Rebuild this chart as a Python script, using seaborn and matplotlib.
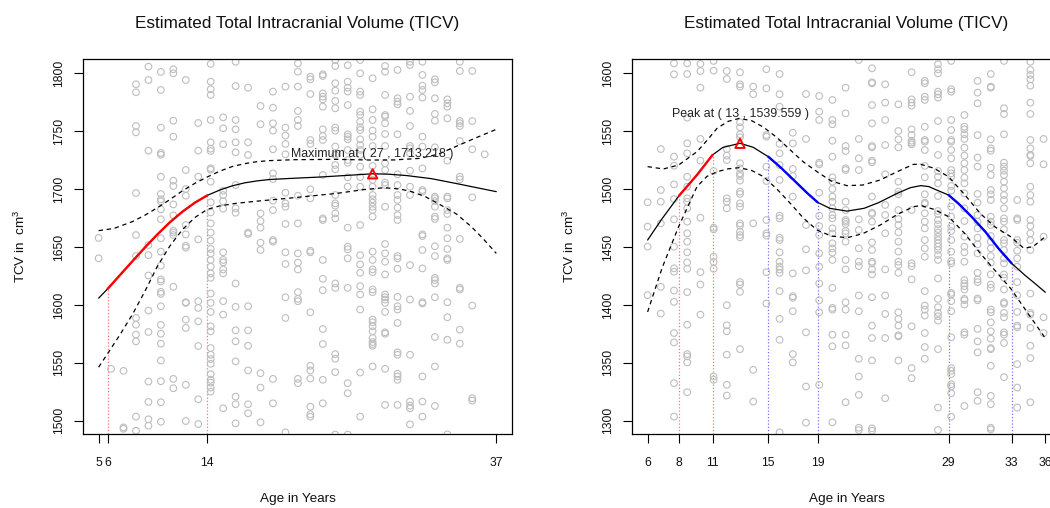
import numpy as np
import pandas as pd
import matplotlib
matplotlib.use("Agg")
import matplotlib.pyplot as plt
import seaborn as sns

# ---------------------------------------------------------------- data
TITLE = "Estimated Total Intracranial Volume (TICV)"
X_LABEL = "Age in Years"
Y_LABEL = r"TCV in  cm$^3$"

# Left panel: observed TCV per age
left_ages = [5.27, 6.27, 7.27, 8.27, 9.27, 10.27, 11.27, 12.27, 13.27, 14.27,
             15.27, 16.27, 17.27, 18.27, 19.27, 20.27, 21.27, 22.27, 23.27,
             24.27, 25.27, 26.27, 27.27, 28.27, 29.27, 30.27, 31.27, 32.27,
             33.27, 34.27, 35.27, 36.27]
left_values = [
    [1657.8, 1640.2],
    [1544.8],
    [1543.0, 1494.2, 1493.0],
    [1790.5, 1783.6, 1754.5, 1749.0, 1696.6, 1660.3, 1642.2, 1588.7, 1582.9, 1574.3, 1568.5, 1503.5, 1491.3],
    [1805.8, 1794.2, 1733.2, 1651.7, 1643.0, 1625.4, 1595.1, 1576.6, 1533.8, 1516.2, 1501.2, 1495.7],
    [1801.2, 1785.6, 1753.1, 1731.2, 1729.7, 1710.7, 1695.8, 1691.2, 1689.4, 1682.5, 1673.9, 1657.5, 1646.0,
     1633.9, 1622.0, 1620.2, 1611.3, 1609.5, 1598.8, 1582.7, 1575.1, 1566.5, 1552.0, 1534.1, 1515.9, 1499.1],
    [1803.5, 1800.0, 1759.1, 1745.3, 1707.3, 1702.7, 1686.8, 1677.3, 1664.1, 1662.4, 1660.3, 1615.6, 1536.1, 1528.0],
    [1794.2, 1716.5, 1700.1, 1694.3, 1669.0, 1660.9, 1651.1, 1649.4, 1602.3, 1601.7, 1587.3, 1580.1, 1531.0, 1499.7],
    [1757.1, 1733.2, 1710.7, 1656.6, 1603.2, 1597.4, 1585.8, 1564.5, 1518.5, 1497.1],
    [1808.1, 1792.8, 1786.2, 1781.3, 1759.7, 1740.4, 1734.9, 1732.9, 1718.0, 1716.8, 1706.4, 1688.6, 1679.9,
     1670.4, 1662.4, 1655.5, 1648.3, 1644.5, 1638.8, 1633.0, 1627.2, 1623.4, 1609.8, 1601.7, 1593.9, 1581.5,
     1577.2, 1562.7, 1556.9, 1553.2, 1549.1, 1540.2, 1535.3, 1532.9, 1528.6, 1525.1],
    [1762.0, 1752.5, 1738.7, 1698.6, 1694.9, 1689.4, 1683.1, 1645.4, 1638.8, 1636.7, 1630.6, 1627.2, 1603.2,
     1591.6, 1510.7],
    [1810.0, 1789.0, 1759.7, 1751.6, 1740.4, 1731.8, 1703.5, 1683.4, 1679.6, 1618.5, 1598.3, 1578.0, 1568.5,
     1551.2, 1520.8, 1514.2, 1497.7],
    [1787.6, 1740.4, 1729.5, 1662.4, 1661.2, 1598.8, 1578.0, 1564.7, 1543.4, 1514.2, 1506.4],
    [1771.8, 1756.0, 1679.0, 1672.4, 1666.7, 1653.7, 1647.4, 1541.0, 1528.6, 1498.6],
    [1784.2, 1770.3, 1756.8, 1750.5, 1734.4, 1713.6, 1708.7, 1690.0, 1681.9, 1656.0, 1654.6, 1536.1, 1515.0],
    [1788.5, 1753.1, 1746.2, 1739.0, 1730.0, 1696.9, 1687.7, 1684.8, 1669.9, 1645.4, 1635.3, 1606.6, 1588.7, 1489.9],
    [1808.6, 1801.4, 1788.5, 1767.5, 1759.7, 1754.5, 1694.3, 1670.4, 1644.5, 1636.5, 1630.6, 1611.0, 1605.2,
     1603.2, 1536.1, 1532.4],
    [1797.1, 1794.8, 1782.1, 1742.4, 1739.0, 1699.8, 1692.0, 1646.8, 1645.4, 1593.6, 1547.4, 1543.4, 1536.4,
     1512.1, 1505.5, 1503.5],
    [1799.1, 1797.7, 1782.7, 1779.8, 1777.5, 1771.2, 1751.6, 1745.9, 1742.4, 1712.2, 1674.7, 1673.3, 1638.8,
     1622.5, 1612.7, 1579.2, 1566.2, 1535.3, 1515.0],
    [1811.5, 1806.3, 1791.4, 1785.0, 1776.1, 1769.8, 1753.1, 1750.5, 1736.7, 1729.5, 1720.8, 1717.1, 1694.9,
     1687.7, 1685.7, 1679.0, 1674.7, 1618.5, 1614.7, 1557.5, 1553.5, 1541.9, 1488.0],
    [1806.9, 1792.8, 1787.6, 1784.2, 1772.6, 1747.3, 1745.3, 1743.0, 1733.8, 1725.1, 1722.8, 1710.2, 1702.1,
     1666.7, 1650.3, 1648.0, 1640.2, 1614.7, 1532.4, 1523.7, 1488.0],
    [1811.5, 1800.0, 1784.2, 1781.3, 1766.9, 1764.0, 1758.2, 1753.4, 1751.0, 1743.0, 1738.1, 1733.8, 1729.5,
     1719.4, 1710.4, 1702.1, 1669.0, 1643.0, 1635.0, 1627.7, 1616.2, 1609.0, 1596.0, 1541.6, 1503.5],
    [1795.7, 1768.9, 1759.7, 1750.5, 1745.3, 1737.2, 1720.0, 1707.9, 1702.1, 1694.9, 1691.2, 1688.3, 1684.8,
     1681.9, 1676.2, 1646.0, 1638.8, 1630.7, 1628.3, 1613.3, 1611.0, 1587.3, 1585.0, 1581.5, 1577.2, 1571.4,
     1567.9, 1566.2, 1564.7, 1546.8],
    [1806.3, 1801.4, 1781.3, 1764.0, 1762.6, 1756.8, 1747.6, 1737.2, 1722.3, 1716.5, 1705.6, 1703.5, 1684.8,
     1652.6, 1644.5, 1637.3, 1626.3, 1609.0, 1606.6, 1604.6, 1601.7, 1593.9, 1576.3, 1575.1, 1544.8, 1513.6],
    [1802.9, 1778.4, 1775.5, 1773.2, 1747.3, 1712.8, 1703.5, 1694.9, 1690.6, 1684.0, 1677.6, 1673.3, 1642.2,
     1640.2, 1631.2, 1606.9, 1598.8, 1596.0, 1584.4, 1559.0, 1556.9, 1540.5, 1538.2, 1535.3, 1513.6],
    [1810.0, 1807.2, 1779.8, 1767.5, 1754.5, 1737.2, 1735.2, 1730.9, 1715.9, 1702.1, 1694.9, 1634.4, 1604.6,
     1556.9, 1516.5, 1513.0, 1510.7, 1496.8],
    [1810.0, 1798.6, 1789.3, 1785.6, 1779.0, 1745.3, 1736.7, 1717.9, 1699.2, 1697.8, 1660.9, 1659.5, 1647.4,
     1631.5, 1602.3, 1601.2, 1538.2, 1516.5, 1503.5],
    [1794.8, 1792.2, 1778.4, 1764.9, 1759.1, 1736.1, 1693.5, 1692.0, 1689.7, 1684.8, 1676.2, 1674.2, 1650.6,
     1642.2, 1623.4, 1621.4, 1618.5, 1606.6, 1572.3, 1546.8, 1512.7],
    [1777.5, 1774.1, 1771.2, 1761.1, 1724.6, 1693.5, 1692.0, 1681.9, 1678.5, 1666.7, 1657.5, 1648.3, 1640.2,
     1638.8, 1602.3, 1589.3, 1569.9, 1488.2],
    [1810.0, 1802.0, 1758.8, 1756.8, 1754.5, 1741.5, 1710.7, 1708.4, 1656.9, 1614.7, 1613.3, 1578.6, 1566.5],
    [1802.0, 1758.8, 1734.4, 1692.9, 1599.4, 1519.4, 1517.3],
    [1730.0],
]

# Left panel: fitted curve and confidence band
left_fit_age = [5.27, 6.0, 7.0, 8.0, 9.0, 10.0, 11.0, 12.0, 13.0, 14.0, 15.0, 16.0, 17.0, 18.0, 19.0,
                21.0, 23.0, 25.0, 27.27, 28.5, 30.0, 32.0, 34.0, 35.5, 37.2]
left_fit_tcv = [1605.8, 1613.9, 1625.9, 1637.9, 1649.7, 1661.0, 1671.4, 1680.5, 1688.3, 1694.6, 1699.2,
                1702.8, 1705.4, 1707.1, 1708.3, 1709.4, 1710.4, 1711.7, 1713.218, 1712.9, 1711.7,
                1709.0, 1704.8, 1701.5, 1697.8]
left_up_age = [5.27, 6.5, 8.0, 9.0, 10.0, 11.0, 12.0, 13.0, 14.0, 15.0, 16.0, 17.0, 18.0, 19.0, 21.0,
               24.4, 27.1, 29.0, 31.0, 32.5, 34.0, 35.5, 37.2]
left_up_tcv = [1664.1, 1666.0, 1672.0, 1677.5, 1684.0, 1691.0, 1698.5, 1705.0, 1710.5, 1715.5, 1719.5,
               1722.0, 1723.7, 1724.6, 1725.4, 1725.7, 1725.1, 1725.2, 1726.5, 1730.0, 1737.0, 1744.0, 1751.6]
left_lo_age = [5.27, 6.0, 7.0, 8.0, 9.0, 10.0, 11.0, 12.0, 13.0, 14.0, 15.0, 16.3, 18.0, 20.4, 24.4,
               26.5, 28.2, 29.5, 30.4, 31.5, 32.5, 34.0, 35.2, 36.2, 37.2]
left_lo_tcv = [1546.2, 1558.0, 1574.5, 1592.0, 1612.0, 1633.5, 1651.0, 1665.0, 1675.5, 1682.5, 1685.5,
               1687.7, 1689.6, 1692.0, 1696.3, 1699.5, 1701.2, 1700.0, 1697.8, 1693.5, 1687.7, 1678.5,
               1667.5, 1656.5, 1644.5]
left_peak = (27.27, 1713.218)
left_red = [(6.0, 14.0)]
left_blue = []
left_xticks = [5.27, 6.0, 14.0, 37.2]
left_yticks = [1500, 1550, 1600, 1650, 1700, 1750, 1800]

# Right panel: observed TCV per age
right_ages = [5.9, 6.9, 7.9, 8.9, 9.9, 10.9, 11.9, 12.9, 13.9, 14.9, 15.9, 16.9, 17.9, 18.9, 19.9,
              20.9, 21.9, 22.9, 23.9, 24.9, 25.9, 26.9, 27.9, 28.9, 29.9, 30.9, 31.9, 32.9, 33.9,
              34.9, 35.9]
right_values = [
    [1488.6, 1467.6, 1450.3, 1408.4],
    [1534.6, 1499.2, 1489.1, 1470.4, 1415.6, 1392.5],
    [1608.6, 1599.1, 1528.0, 1520.2, 1504.1, 1491.4, 1473.9, 1450.3, 1431.6, 1428.6, 1412.4, 1402.6,
     1375.7, 1367.6, 1332.4, 1303.5],
    [1608.6, 1599.4, 1561.7, 1539.5, 1530.9, 1510.7, 1502.1, 1492.0, 1489.1, 1483.4, 1471.9, 1461.8,
     1454.6, 1445.4, 1436.7, 1431.2, 1411.0, 1382.9, 1357.5, 1355.5, 1350.3, 1324.6],
    [1608.1, 1602.0, 1587.6, 1543.3, 1524.6, 1475.3, 1428.3, 1417.6, 1391.6],
    [1610.7, 1602.3, 1515.6, 1466.7, 1465.2, 1441.6, 1437.0, 1431.2, 1338.2, 1335.3],
    [1602.0, 1595.1, 1534.6, 1528.9, 1525.1, 1492.0, 1489.1, 1483.4, 1399.7, 1382.4, 1377.2, 1357.0,
     1331.0, 1321.7],
    [1600.9, 1590.5, 1588.5, 1557.7, 1553.4, 1547.3, 1544.7, 1522.3, 1517.9, 1513.6, 1511.3, 1507.3,
     1497.8, 1495.8, 1487.7, 1484.8, 1470.4, 1468.4, 1463.2, 1460.3, 1458.3, 1419.7, 1417.6, 1411.3, 1361.8],
    [1588.5, 1581.9, 1470.4, 1343.9, 1316.5],
    [1603.5, 1587.0, 1546.7, 1545.3, 1519.4, 1507.0, 1473.3, 1461.8, 1459.8, 1428.3, 1401.2],
    [1599.4, 1581.9, 1571.2, 1539.0, 1530.9, 1520.8, 1507.9, 1477.0, 1474.7, 1458.0, 1456.0, 1445.4,
     1437.3, 1433.0, 1430.6, 1427.7, 1411.9, 1387.9, 1369.9, 1289.9],
    [1548.7, 1539.5, 1517.4, 1511.3, 1493.5, 1427.2, 1407.5, 1406.1, 1394.5, 1357.5, 1350.3],
    [1582.1, 1543.3, 1469.0, 1448.0, 1429.8, 1376.3, 1329.5, 1298.3],
    [1580.4, 1566.9, 1559.7, 1522.8, 1521.4, 1496.9, 1477.0, 1468.1, 1460.3, 1444.5, 1433.0, 1418.5,
     1404.0, 1393.6, 1330.9],
    [1577.0, 1559.7, 1556.0, 1541.8, 1528.0, 1510.2, 1506.4, 1500.1, 1493.5, 1489.1, 1483.4, 1477.6,
     1474.7, 1466.1, 1461.8, 1453.2, 1448.8, 1445.1, 1438.8, 1414.7, 1397.4, 1395.9, 1374.3, 1364.2, 1298.6],
    [1587.6, 1565.4, 1537.2, 1532.9, 1517.9, 1516.5, 1489.1, 1481.9, 1473.3, 1471.9, 1469.9, 1463.8,
     1461.8, 1454.6, 1438.8, 1430.6, 1402.3, 1395.9, 1374.3, 1365.0, 1315.9],
    [1611.5, 1543.3, 1526.6, 1516.5, 1473.9, 1464.6, 1448.8, 1437.3, 1433.5, 1408.1, 1394.5, 1353.5,
     1338.2, 1322.3, 1293.9, 1291.9],
    [1604.3, 1592.2, 1591.4, 1572.6, 1556.8, 1537.2, 1536.1, 1524.6, 1523.1, 1493.5, 1479.6, 1478.5,
     1471.9, 1454.0, 1447.4, 1437.3, 1435.9, 1430.6, 1426.3, 1406.6, 1382.1, 1371.4, 1352.0, 1293.4, 1291.3],
    [1590.5, 1574.7, 1559.7, 1538.1, 1512.8, 1486.3, 1477.6, 1461.8, 1430.6, 1408.1, 1392.2, 1371.4, 1319.4],
    [1573.2, 1550.2, 1543.0, 1536.1, 1506.4, 1497.8, 1495.5, 1481.9, 1474.2, 1469.0, 1462.7, 1454.6,
     1446.0, 1437.3, 1434.4, 1427.7, 1393.6, 1387.9, 1382.1, 1373.7, 1372.8, 1352.0],
    [1600.9, 1577.5, 1574.7, 1572.1, 1551.6, 1546.7, 1541.8, 1540.1, 1538.7, 1481.9, 1435.9, 1433.5,
     1422.0, 1381.5, 1345.4, 1336.7],
    [1593.4, 1591.4, 1579.8, 1577.0, 1553.9, 1542.4, 1541.0, 1533.8, 1520.0, 1510.2, 1495.5, 1488.3,
     1487.1, 1479.1, 1471.9, 1466.1, 1456.0, 1448.8, 1441.6, 1411.9, 1399.4, 1395.9, 1390.8, 1375.7,
     1363.6, 1353.5],
    [1607.8, 1603.5, 1600.0, 1584.2, 1581.9, 1579.0, 1558.8, 1543.3, 1529.5, 1515.6, 1510.7, 1505.0,
     1494.0, 1481.1, 1478.5, 1473.3, 1469.6, 1465.5, 1462.4, 1458.9, 1456.0, 1453.2, 1450.3, 1447.4,
     1443.1, 1438.8, 1422.8, 1405.2, 1398.0, 1393.1, 1390.2, 1386.4, 1361.8, 1311.3, 1291.9],
    [1610.7, 1586.2, 1584.2, 1559.7, 1551.0, 1542.4, 1541.0, 1533.8, 1526.6, 1516.5, 1513.6, 1510.7,
     1502.7, 1498.6, 1484.8, 1476.2, 1467.6, 1463.8, 1456.0, 1446.0, 1437.9, 1435.8, 1410.4, 1409.0,
     1403.2, 1394.5, 1372.0, 1345.4, 1343.1, 1340.2, 1331.5, 1329.5, 1323.7, 1303.5],
    [1564.0, 1553.9, 1551.6, 1547.3, 1543.3, 1535.8, 1528.9, 1522.3, 1516.5, 1509.9, 1505.0, 1496.3,
     1483.4, 1472.4, 1458.9, 1450.3, 1445.4, 1437.3, 1421.4, 1418.5, 1416.2, 1413.3, 1405.2, 1404.0,
     1400.3, 1376.3, 1374.3, 1312.7],
    [1593.4, 1583.3, 1574.1, 1546.7, 1527.2, 1519.4, 1495.8, 1488.3, 1477.6, 1471.9, 1466.1, 1458.0,
     1452.3, 1444.5, 1427.7, 1422.0, 1419.7, 1405.5, 1404.0, 1379.2, 1368.5, 1359.0, 1324.6, 1317.1],
    [1599.4, 1588.5, 1587.6, 1543.0, 1535.2, 1533.2, 1518.5, 1512.2, 1499.2, 1495.5, 1490.6, 1476.2,
     1471.9, 1469.0, 1459.5, 1454.6, 1448.8, 1442.2, 1436.4, 1426.3, 1417.6, 1414.7, 1395.9, 1393.6,
     1384.9, 1377.2, 1370.8, 1362.7, 1361.8, 1347.4, 1321.4, 1314.2, 1293.9, 1292.5],
    [1610.7, 1569.8, 1564.9, 1547.3, 1522.8, 1519.4, 1515.9, 1512.2, 1506.4, 1500.7, 1494.9, 1490.6,
     1483.4, 1474.7, 1471.9, 1465.2, 1456.0, 1453.2, 1447.4, 1440.2, 1435.9, 1426.3, 1423.4, 1413.3,
     1402.3, 1400.9, 1393.1, 1389.3, 1376.3, 1374.3, 1367.1, 1337.6],
    [1490.6, 1474.7, 1473.3, 1456.0, 1453.7, 1446.8, 1440.2, 1433.0, 1419.7, 1408.4, 1393.9, 1382.1,
     1380.6, 1348.8, 1328.6, 1311.3],
    [1610.0, 1602.9, 1598.6, 1594.8, 1589.3, 1574.7, 1564.9, 1542.4, 1535.2, 1529.5, 1528.6, 1522.3,
     1502.1, 1494.9, 1489.1, 1473.3, 1468.1, 1461.8, 1456.0, 1447.4, 1409.8, 1393.1, 1391.6, 1380.1,
     1364.7, 1354.0, 1315.9],
    [1543.3, 1521.4, 1458.9, 1389.3, 1375.7],
]

# Right panel: fitted curve and confidence band
right_fit_age = [5.9, 7.0, 8.28, 9.64, 10.82, 11.6, 12.9, 13.9, 15.04, 16.0, 17.0, 18.0, 18.78, 19.7,
                 21.0, 22.3, 23.4, 24.8, 25.8, 26.6, 27.2, 27.8, 28.7, 29.5, 30.5, 31.5, 32.5, 33.48,
                 34.5, 35.3, 36.03]
right_fit_tcv = [1456.0, 1474.5, 1494.3, 1512.2, 1529.5, 1536.0, 1539.559, 1536.1, 1528.0, 1518.5,
                 1507.5, 1496.5, 1488.6, 1483.4, 1481.0, 1483.4, 1488.3, 1496.3, 1501.2, 1503.0,
                 1502.2, 1499.2, 1494.9, 1487.0, 1475.5, 1463.0, 1448.5, 1435.9, 1425.5, 1418.0, 1410.9]
right_up_age = [5.9, 7.1, 8.25, 9.64, 10.4, 11.16, 12.0, 12.85, 13.8, 14.69, 15.7, 16.71, 17.7, 18.73,
                19.8, 21.0, 22.2, 23.53, 24.8, 26.05, 26.6, 27.6, 28.7, 29.9, 31.1, 32.2, 33.4,
                34.4, 35.1, 36.03]
right_up_tcv = [1519.4, 1517.4, 1520.8, 1532.3, 1542.0, 1552.5, 1558.5, 1561.1, 1559.0, 1553.4, 1544.5,
                1533.8, 1523.5, 1515.1, 1507.0, 1503.0, 1503.5, 1507.9, 1515.0, 1521.4, 1521.4, 1518.0,
                1510.7, 1495.5, 1479.0, 1467.5, 1458.9, 1448.9, 1450.3, 1458.9]
right_lo_age = [5.9, 7.0, 8.25, 9.64, 10.4, 11.16, 12.0, 12.85, 13.8, 14.69, 15.7, 16.71, 17.7, 18.73,
                19.8, 21.0, 22.2, 23.53, 24.8, 26.05, 26.6, 27.6, 28.7, 29.9, 31.1, 32.2, 33.4,
                34.7, 36.03]
right_lo_tcv = [1393.9, 1432.0, 1467.6, 1502.1, 1511.0, 1515.0, 1517.5, 1518.5, 1516.0, 1510.7, 1500.0,
                1487.7, 1475.0, 1464.7, 1459.5, 1458.0, 1461.5, 1469.0, 1478.0, 1484.8, 1485.8, 1482.5,
                1476.2, 1462.0, 1444.6, 1430.0, 1414.3, 1393.0, 1371.2]
right_peak = (12.9, 1539.559)
right_red = [(8.28, 10.82)]
right_blue = [(15.04, 18.78), (28.7, 33.48)]
right_xticks = [5.9, 8.28, 10.82, 15.04, 18.78, 28.7, 33.48, 36.03]
right_yticks = [1300, 1350, 1400, 1450, 1500, 1550, 1600]

# ---------------------------------------------------------------- style
sns.set_theme(style="white")
plt.rcParams["font.family"] = ["Liberation Sans", "DejaVu Sans"]
plt.rcParams["mathtext.fontset"] = "custom"
plt.rcParams["mathtext.rm"] = "Liberation Sans"
plt.rcParams["mathtext.it"] = "Liberation Sans:italic"

POINT_GREY = "#bebebe"
W, H = 1050, 508


def expand(ages, values):
    rows = [(a, v) for a, col in zip(ages, values) for v in col]
    return pd.DataFrame(rows, columns=["age", "tcv"])


def draw_panel(ax, ages, values, fit_age, fit_tcv, up_age, up_tcv, lo_age, lo_tcv,
               peak, peak_text, text_dy, red, blue, xticks, yticks, ylim):
    pts = expand(ages, values)
    sns.scatterplot(data=pts, x="age", y="tcv", ax=ax, marker="o", s=23,
                    facecolors="none", edgecolor=POINT_GREY, linewidth=0.8,
                    legend=False, zorder=2)

    fit = pd.DataFrame({"age": fit_age, "tcv": fit_tcv})
    up = pd.DataFrame({"age": up_age, "tcv": up_tcv})
    lo = pd.DataFrame({"age": lo_age, "tcv": lo_tcv})
    sns.lineplot(data=fit, x="age", y="tcv", ax=ax, color="black", linewidth=0.9,
                 sort=False, estimator=None, zorder=3)
    for band in (up, lo):
        sns.lineplot(data=band, x="age", y="tcv", ax=ax, color="black", linewidth=0.9,
                     linestyle=(0, (3.5, 3)), sort=False, estimator=None, zorder=3)

    for spans, col in ((red, "#ff0000"), (blue, "#0000ff")):
        for lo_a, hi_a in spans:
            seg = fit[(fit["age"] >= lo_a - 1e-9) & (fit["age"] <= hi_a + 1e-9)]
            sns.lineplot(data=seg, x="age", y="tcv", ax=ax, color=col, linewidth=1.7,
                         sort=False, estimator=None, zorder=4)
            tops = np.interp([lo_a, hi_a], fit["age"], fit["tcv"])
            ax.vlines([lo_a, hi_a], ylim[0], tops, colors=col, alpha=0.55,
                      linestyles=(0, (1, 1.6)), linewidth=0.9, zorder=1)

    px, py = peak
    sns.scatterplot(x=[px], y=[py], ax=ax, marker="^", s=45, facecolors="none",
                    edgecolor="#ff0000", linewidth=1.4, legend=False, zorder=5)
    ax.text(px, py + text_dy, peak_text.format(px, py), ha="center", va="center",
            fontsize=8.9, color="#222222", zorder=6)

    x0, x1 = min(ages + fit_age), max(ages + fit_age)
    pad = 0.04 * (x1 - x0)
    ax.set_xlim(x0 - pad, x1 + pad)
    ax.set_ylim(*ylim)
    ax.set_xticks(xticks)
    ax.set_xticklabels([f"{t:.0f}" for t in xticks])
    ax.set_yticks(yticks)
    ax.set_yticklabels([str(t) for t in yticks], rotation=90, va="center")

    ax.tick_params(axis="both", direction="out", length=6.7, width=0.8, color="black",
                   labelsize=8.7, labelcolor="#111111", bottom=True, left=True)
    ax.tick_params(axis="x", pad=9.5)
    ax.tick_params(axis="y", pad=6)
    for s in ax.spines.values():
        s.set_visible(True)
        s.set_color("black")
        s.set_linewidth(0.9)

    ax.set_xlabel(X_LABEL, fontsize=9.7, color="#111111")
    ax.set_ylabel(Y_LABEL, fontsize=9.7, color="#111111")
    ax.xaxis.set_label_coords(0.5, -0.1735)
    ax.xaxis.label.set_va("center")
    ax.yaxis.set_label_coords(-0.146, 0.5)
    ax.yaxis.label.set_va("center")
    ax.set_title(TITLE, fontsize=12.3, color="#111111", y=1.0961, pad=0, va="center")


fig = plt.figure(figsize=(W / 100, H / 100), dpi=100)
ax_l = fig.add_axes([82.7 / W, (H - 434) / H, 429.5 / W, 374.7 / H])
ax_r = fig.add_axes([631.7 / W, (H - 434) / H, 429.5 / W, 374.7 / H])

draw_panel(ax_l, left_ages, left_values, left_fit_age, left_fit_tcv, left_up_age, left_up_tcv,
           left_lo_age, left_lo_tcv, left_peak, "Maximum at ( {:.0f} , {:.3f} )", 17,
           left_red, left_blue, left_xticks, left_yticks, (1488.5, 1812.1))
draw_panel(ax_r, right_ages, right_values, right_fit_age, right_fit_tcv, right_up_age, right_up_tcv,
           right_lo_age, right_lo_tcv, right_peak, "Peak at ( {:.0f} , {:.3f} )", 25.4,
           right_red, right_blue, right_xticks, right_yticks, (1288.5, 1612.1))

fig.savefig("out.png", dpi=100, facecolor="white")
